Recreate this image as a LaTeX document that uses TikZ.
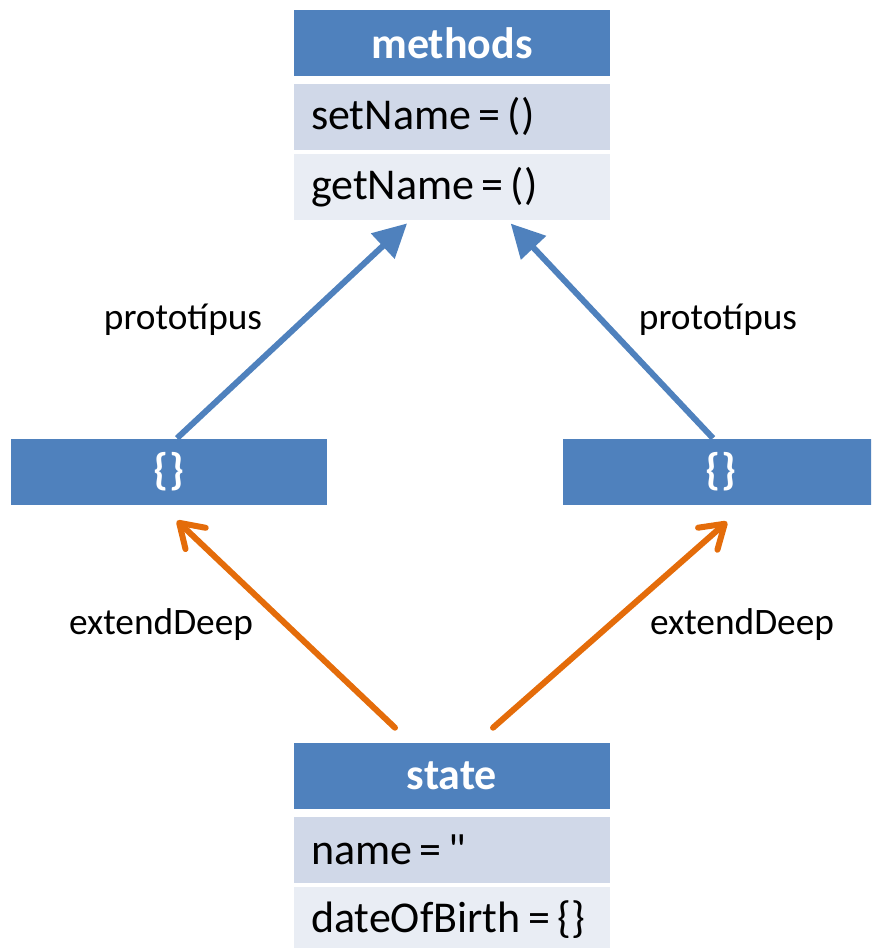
\documentclass[tikz,border=0pt]{standalone}
\usepackage{fontspec}
\setmainfont{Carlito}
\newfontfamily\rawfont{Carlito}
\usetikzlibrary{positioning,arrows.meta}

\definecolor{headblue}{HTML}{4F81BD}
\definecolor{rowdark}{HTML}{D0D8E8}
\definecolor{rowlight}{HTML}{E9EDF4}
\definecolor{extorange}{HTML}{E46C0A}

\begin{document}
\begin{tikzpicture}[x=0.75pt,y=-0.75pt,
        head box/.style={rectangle, fill=headblue, text=white, inner sep=0pt,
        minimum width=237pt, minimum height=49.5pt, font=\fontsize{33}{38}\selectfont\bfseries},
        row box/.style={rectangle, inner ysep=0pt, inner xsep=12.75pt, text width=211.5pt,
        align=left, minimum height=50pt, font=\fontsize{33}{38}\selectfont},
        proto link/.style={line width=4.5pt, headblue, -{Triangle[length=25pt,width=25pt]}},
        ext link/.style={line width=4.5pt, extorange, line cap=round,
        -{Straight Barb[length=17pt,width=22pt,round]}},
        label/.style={font=\fontsize{28}{32}\selectfont}
        ]

        \useasboundingbox (0,0) rectangle (871,948);
        \clip (0,0) rectangle (871,948);

        % methods
        \node [head box] (mhead) at (452,43) {methods};
        \node [row box, fill=rowdark] (setn) [below = 5.25pt of mhead] {setName\,=\,()};
        \node [row box, fill=rowlight] (getn) [below = 2.25pt of setn] {getName\,=\,()};

        % the two objects
        \node [head box] (lobj) at (169,471.5) {\{\}};
        \node [head box] (robj) at (721,471.5) {\{\}};

        % state
        \node [head box] (shead) at (452,776) {state};
        \node [row box, fill=rowdark] (namer) [below = 5.25pt of shead] {name\,=\,{\rawfont"}};
        \node [row box, fill=rowlight] (dobr) [below = 2.25pt of namer] {dateOfBirth\,=\,\{\}};

        \draw [proto link, shorten >=3pt]
        ([xshift=6pt]lobj.north) -- ([xshift=-31.5pt]getn.south);
        \draw [proto link, shorten >=3pt]
        ([xshift=-6pt]robj.north) -- ([xshift=42pt]getn.south);
        \draw [ext link]
        ([xshift=-42.75pt,yshift=11.25pt]shead.north) -- ([xshift=6pt,yshift=-12pt]lobj.south);
        \draw [ext link]
        ([xshift=30.75pt,yshift=11.25pt]shead.north) -- ([xshift=4.5pt,yshift=-12.75pt]robj.south);

        \node [label] (lproto) at (183,320) {prototípus};
        \node [label] (rproto) at (718,320) {prototípus};
        \node [label] (lext) at (161,625) {extendDeep};
        \node [label] (rext) at (742,625) {extendDeep};
\end{tikzpicture}
\end{document}
